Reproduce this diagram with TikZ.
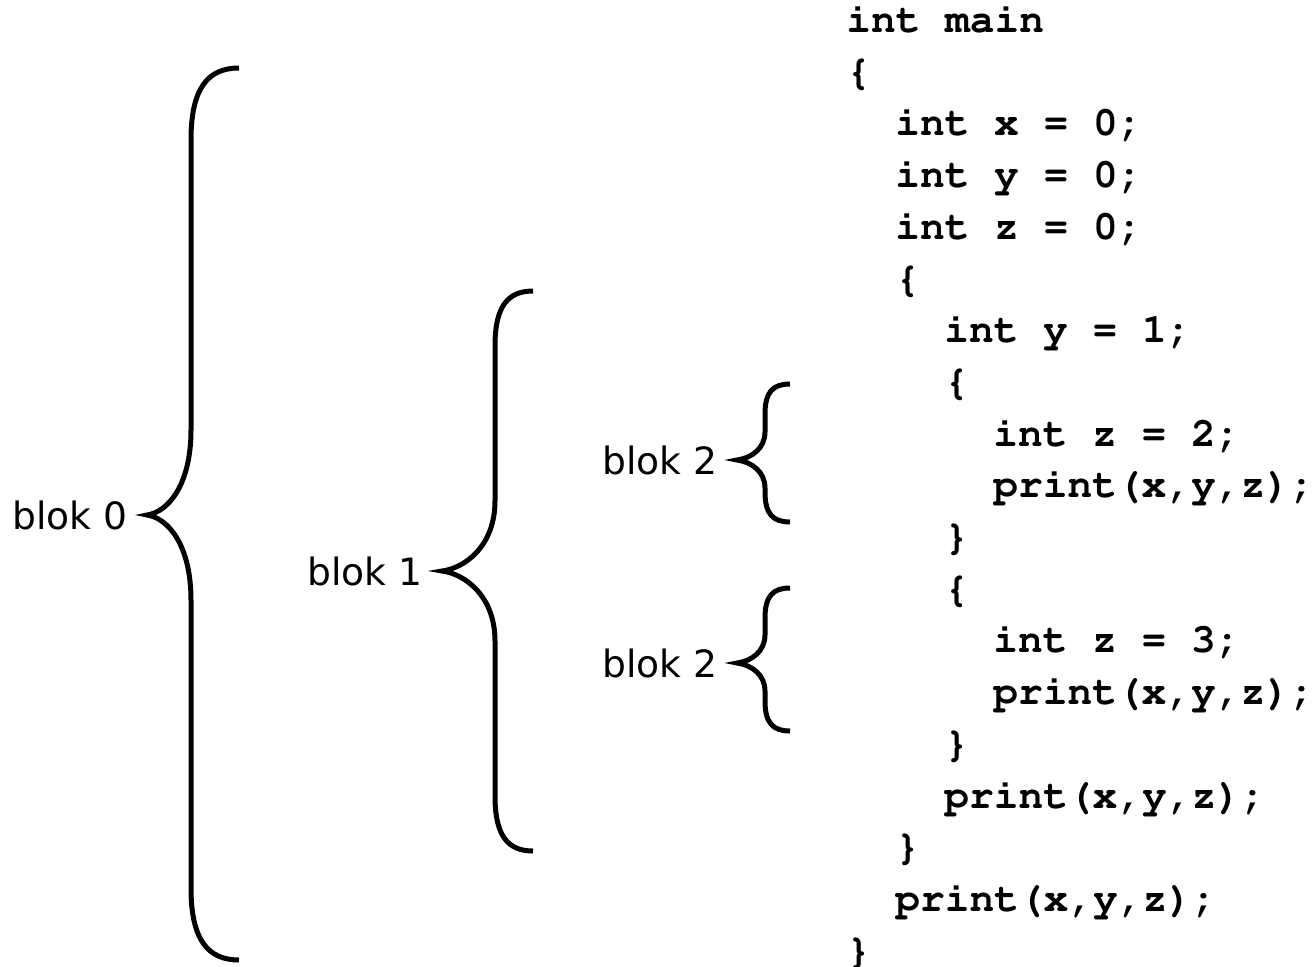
\documentclass[tikz,border=0pt]{standalone}
\usepackage[T1]{fontenc}
\usepackage{fontspec}
\usepackage{tikz}
\usetikzlibrary{positioning}
\newcommand\courierbold{\fontencoding{T1}\fontfamily{pcr}\fontseries{b}\selectfont}
\newfontfamily\blokfont{DejaVu Sans}

\begin{document}
\begin{tikzpicture}[x=0.5pt, y=-0.5pt,
    blokline/.style={line width=2.5pt},
    bloklabel/.style={inner sep=0pt, font=\blokfont\fontsize{18.8}{22}\selectfont},
    codeline/.style={inner sep=0pt, anchor=base west, font=\courierbold\fontsize{20.6}{26}\selectfont}]
  \useasboundingbox (0,0) rectangle (1314,966);

  % Code listing
  \foreach \lev/\txt [count=\n] in {0/int main, 0/\{, 1/int x = 0;, 1/int y = 0;, 1/int z = 0;, 1/\{,
      2/int y = 1;, 2/\{, 3/int z = 2;, 3/{print(x,y,z);}, 2/\}, 2/\{, 3/int z = 3;, 3/{print(x,y,z);},
      2/\}, 2/{print(x,y,z);}, 1/\}, 1/{print(x,y,z);}, 0/\}}
    \node[codeline] (line\n) at ({846+49*\lev}, {32.5+51.7*(\n-1)}) {\txt};

  % blok 0
  \draw[blokline] (239,68) .. controls (208,68) and (191,88) .. (191,140) -- (191,430)
    .. controls (191,485) and (168,512) .. (147,515) coordinate (t0)
    .. controls (168,518) and (191,545) .. (191,600) -- (191,888)
    .. controls (191,940) and (208,960) .. (239,960);
  \node[bloklabel, left=9.5pt of t0] (b0) {blok 0};

  % blok 1
  \draw[blokline] (533,291) .. controls (508,291) and (495,306) .. (495,346) -- (495,501)
    .. controls (495,546) and (465,568) .. (442,571) coordinate (t1)
    .. controls (465,574) and (495,596) .. (495,641) -- (495,796)
    .. controls (495,836) and (508,851) .. (533,851);
  \node[bloklabel, left=9.5pt of t1] (b1) {blok 1};

  % blok 2 (first inner block)
  \draw[blokline] (790,384) .. controls (773,384) and (765,392) .. (765,414) -- (765,432)
    .. controls (765,448) and (752,458) .. (737,460) coordinate (t2a)
    .. controls (752,462) and (765,472) .. (765,488) -- (765,492)
    .. controls (765,514) and (773,522) .. (790,522);
  \node[bloklabel, left=9.5pt of t2a] (b2a) {blok 2};

  % blok 2 (second inner block)
  \draw[blokline] (790,588) .. controls (773,588) and (765,596) .. (765,618) -- (765,635)
    .. controls (765,651) and (752,661) .. (737,663) coordinate (t2b)
    .. controls (752,665) and (765,675) .. (765,691) -- (765,701)
    .. controls (765,723) and (773,731) .. (790,731);
  \node[bloklabel, left=9.5pt of t2b] (b2b) {blok 2};

\end{tikzpicture}
\end{document}
